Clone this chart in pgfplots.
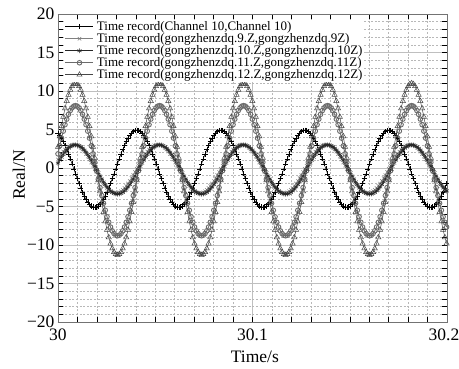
\documentclass[border=0pt]{standalone}
\usepackage{fontspec}
\setmainfont{Liberation Serif}
\usepackage{pgfplots}
\usepackage{pgfplotstable}
\pgfplotsset{compat=1.18}
\pgfplotstableread{
t s1 s2 s3 s4 s5
30.0000 4.52 1.11 0.63 1.84 2.74
30.0009 4.23 1.48 1.02 2.88 4.12
30.0018 3.87 1.82 1.40 3.88 5.43
30.0027 3.44 2.13 1.75 4.79 6.64
30.0036 2.94 2.40 2.06 5.63 7.73
30.0045 2.40 2.63 2.34 6.35 8.70
30.0054 1.81 2.81 2.57 6.97 9.51
30.0063 1.19 2.94 2.76 7.46 10.15
30.0072 0.55 3.02 2.89 7.81 10.62
30.0081 -0.10 3.05 2.97 8.03 10.90
30.0090 -0.75 3.02 3.00 8.10 11.00
30.0099 -1.39 2.94 2.97 8.03 10.90
30.0108 -2.01 2.81 2.89 7.81 10.62
30.0117 -2.60 2.63 2.76 7.46 10.15
30.0126 -3.14 2.40 2.57 6.97 9.51
30.0135 -3.64 2.13 2.34 6.35 8.70
30.0144 -4.07 1.82 2.06 5.63 7.73
30.0153 -4.43 1.48 1.75 4.79 6.64
30.0162 -4.72 1.11 1.40 3.88 5.43
30.0171 -4.93 0.72 1.02 2.88 4.12
30.0180 -5.06 0.31 0.63 1.84 2.74
30.0189 -5.10 -0.10 0.22 0.75 1.31
30.0198 -5.06 -0.51 -0.20 -0.35 -0.15
30.0207 -4.93 -0.92 -0.62 -1.45 -1.61
30.0216 -4.72 -1.31 -1.03 -2.54 -3.04
30.0225 -4.43 -1.68 -1.42 -3.58 -4.42
30.0234 -4.07 -2.02 -1.80 -4.58 -5.73
30.0243 -3.64 -2.33 -2.15 -5.49 -6.94
30.0252 -3.14 -2.60 -2.46 -6.33 -8.03
30.0261 -2.60 -2.83 -2.74 -7.05 -9.00
30.0270 -2.01 -3.01 -2.97 -7.67 -9.81
30.0279 -1.39 -3.14 -3.16 -8.16 -10.45
30.0288 -0.75 -3.22 -3.29 -8.51 -10.92
30.0297 -0.10 -3.25 -3.37 -8.73 -11.20
30.0306 0.55 -3.22 -3.40 -8.80 -11.30
30.0315 1.19 -3.14 -3.37 -8.73 -11.20
30.0324 1.81 -3.01 -3.29 -8.51 -10.92
30.0333 2.40 -2.83 -3.16 -8.16 -10.45
30.0342 2.94 -2.60 -2.97 -7.67 -9.81
30.0351 3.44 -2.33 -2.74 -7.05 -9.00
30.0360 3.87 -2.02 -2.46 -6.33 -8.03
30.0369 4.23 -1.68 -2.15 -5.49 -6.94
30.0378 4.52 -1.31 -1.80 -4.58 -5.73
30.0387 4.73 -0.92 -1.42 -3.58 -4.42
30.0396 4.86 -0.51 -1.03 -2.54 -3.04
30.0405 4.90 -0.10 -0.62 -1.45 -1.61
30.0414 4.86 0.31 -0.20 -0.35 -0.15
30.0423 4.73 0.72 0.22 0.75 1.31
30.0432 4.52 1.11 0.63 1.84 2.74
30.0441 4.23 1.48 1.02 2.88 4.12
30.0450 3.87 1.82 1.40 3.88 5.43
30.0459 3.44 2.13 1.75 4.79 6.64
30.0468 2.94 2.40 2.06 5.63 7.73
30.0477 2.40 2.63 2.34 6.35 8.70
30.0486 1.81 2.81 2.57 6.97 9.51
30.0495 1.19 2.94 2.76 7.46 10.15
30.0504 0.55 3.02 2.89 7.81 10.62
30.0513 -0.10 3.05 2.97 8.03 10.90
30.0522 -0.75 3.02 3.00 8.10 11.00
30.0531 -1.39 2.94 2.97 8.03 10.90
30.0540 -2.01 2.81 2.89 7.81 10.62
30.0549 -2.60 2.63 2.76 7.46 10.15
30.0558 -3.14 2.40 2.57 6.97 9.51
30.0567 -3.64 2.13 2.34 6.35 8.70
30.0576 -4.07 1.82 2.06 5.63 7.73
30.0585 -4.43 1.48 1.75 4.79 6.64
30.0594 -4.72 1.11 1.40 3.88 5.43
30.0603 -4.93 0.72 1.02 2.88 4.12
30.0612 -5.06 0.31 0.63 1.84 2.74
30.0621 -5.10 -0.10 0.22 0.75 1.31
30.0630 -5.06 -0.51 -0.20 -0.35 -0.15
30.0639 -4.93 -0.92 -0.62 -1.45 -1.61
30.0648 -4.72 -1.31 -1.03 -2.54 -3.04
30.0657 -4.43 -1.68 -1.42 -3.58 -4.42
30.0666 -4.07 -2.02 -1.80 -4.58 -5.73
30.0675 -3.64 -2.33 -2.15 -5.49 -6.94
30.0684 -3.14 -2.60 -2.46 -6.33 -8.03
30.0693 -2.60 -2.83 -2.74 -7.05 -9.00
30.0702 -2.01 -3.01 -2.97 -7.67 -9.81
30.0711 -1.39 -3.14 -3.16 -8.16 -10.45
30.0720 -0.75 -3.22 -3.29 -8.51 -10.92
30.0729 -0.10 -3.25 -3.37 -8.73 -11.20
30.0738 0.55 -3.22 -3.40 -8.80 -11.30
30.0747 1.19 -3.14 -3.37 -8.73 -11.20
30.0756 1.81 -3.01 -3.29 -8.51 -10.92
30.0765 2.40 -2.83 -3.16 -8.16 -10.45
30.0774 2.94 -2.60 -2.97 -7.67 -9.81
30.0783 3.44 -2.33 -2.74 -7.05 -9.00
30.0792 3.87 -2.02 -2.46 -6.33 -8.03
30.0801 4.23 -1.68 -2.15 -5.49 -6.94
30.0810 4.52 -1.31 -1.80 -4.58 -5.73
30.0819 4.73 -0.92 -1.42 -3.58 -4.42
30.0828 4.86 -0.51 -1.03 -2.54 -3.04
30.0837 4.90 -0.10 -0.62 -1.45 -1.61
30.0846 4.86 0.31 -0.20 -0.35 -0.15
30.0855 4.73 0.72 0.22 0.75 1.31
30.0864 4.52 1.11 0.63 1.84 2.74
30.0873 4.23 1.48 1.02 2.88 4.12
30.0882 3.87 1.82 1.40 3.88 5.43
30.0891 3.44 2.13 1.75 4.79 6.64
30.0900 2.94 2.40 2.06 5.63 7.73
30.0909 2.40 2.63 2.34 6.35 8.70
30.0918 1.81 2.81 2.57 6.97 9.51
30.0927 1.19 2.94 2.76 7.46 10.15
30.0936 0.55 3.02 2.89 7.81 10.62
30.0945 -0.10 3.05 2.97 8.03 10.90
30.0954 -0.75 3.02 3.00 8.10 11.00
30.0963 -1.39 2.94 2.97 8.03 10.90
30.0972 -2.01 2.81 2.89 7.81 10.62
30.0981 -2.60 2.63 2.76 7.46 10.15
30.0990 -3.14 2.40 2.57 6.97 9.51
30.0999 -3.64 2.13 2.34 6.35 8.70
30.1008 -4.07 1.82 2.06 5.63 7.73
30.1017 -4.43 1.48 1.75 4.79 6.64
30.1026 -4.72 1.11 1.40 3.88 5.43
30.1035 -4.93 0.72 1.02 2.88 4.12
30.1044 -5.06 0.31 0.63 1.84 2.74
30.1053 -5.10 -0.10 0.22 0.75 1.31
30.1062 -5.06 -0.51 -0.20 -0.35 -0.15
30.1071 -4.93 -0.92 -0.62 -1.45 -1.61
30.1080 -4.72 -1.31 -1.03 -2.54 -3.04
30.1089 -4.43 -1.68 -1.42 -3.58 -4.42
30.1098 -4.07 -2.02 -1.80 -4.58 -5.73
30.1107 -3.64 -2.33 -2.15 -5.49 -6.94
30.1116 -3.14 -2.60 -2.46 -6.33 -8.03
30.1125 -2.60 -2.83 -2.74 -7.05 -9.00
30.1134 -2.01 -3.01 -2.97 -7.67 -9.81
30.1143 -1.39 -3.14 -3.16 -8.16 -10.45
30.1152 -0.75 -3.22 -3.29 -8.51 -10.92
30.1161 -0.10 -3.25 -3.37 -8.73 -11.20
30.1170 0.55 -3.22 -3.40 -8.80 -11.30
30.1179 1.19 -3.14 -3.37 -8.73 -11.20
30.1188 1.81 -3.01 -3.29 -8.51 -10.92
30.1197 2.40 -2.83 -3.16 -8.16 -10.45
30.1206 2.94 -2.60 -2.97 -7.67 -9.81
30.1215 3.44 -2.33 -2.74 -7.05 -9.00
30.1224 3.87 -2.02 -2.46 -6.33 -8.03
30.1233 4.23 -1.68 -2.15 -5.49 -6.94
30.1242 4.52 -1.31 -1.80 -4.58 -5.73
30.1251 4.73 -0.92 -1.42 -3.58 -4.42
30.1260 4.86 -0.51 -1.03 -2.54 -3.04
30.1269 4.90 -0.10 -0.62 -1.45 -1.61
30.1278 4.86 0.31 -0.20 -0.35 -0.15
30.1287 4.73 0.72 0.22 0.75 1.31
30.1296 4.52 1.11 0.63 1.84 2.74
30.1305 4.23 1.48 1.02 2.88 4.12
30.1314 3.87 1.82 1.40 3.88 5.43
30.1323 3.44 2.13 1.75 4.79 6.64
30.1332 2.94 2.40 2.06 5.63 7.73
30.1341 2.40 2.63 2.34 6.35 8.70
30.1350 1.81 2.81 2.57 6.97 9.51
30.1359 1.19 2.94 2.76 7.46 10.15
30.1368 0.55 3.02 2.89 7.81 10.62
30.1377 -0.10 3.05 2.97 8.03 10.90
30.1386 -0.75 3.02 3.00 8.10 11.00
30.1395 -1.39 2.94 2.97 8.03 10.90
30.1404 -2.01 2.81 2.89 7.81 10.62
30.1413 -2.60 2.63 2.76 7.46 10.15
30.1422 -3.14 2.40 2.57 6.97 9.51
30.1431 -3.64 2.13 2.34 6.35 8.70
30.1440 -4.07 1.82 2.06 5.63 7.73
30.1449 -4.43 1.48 1.75 4.79 6.64
30.1458 -4.72 1.11 1.40 3.88 5.43
30.1467 -4.93 0.72 1.02 2.88 4.12
30.1476 -5.06 0.31 0.63 1.84 2.74
30.1485 -5.10 -0.10 0.22 0.75 1.31
30.1494 -5.06 -0.51 -0.20 -0.35 -0.15
30.1503 -4.93 -0.92 -0.62 -1.45 -1.61
30.1512 -4.72 -1.31 -1.03 -2.54 -3.04
30.1521 -4.43 -1.68 -1.42 -3.58 -4.42
30.1530 -4.07 -2.02 -1.80 -4.58 -5.73
30.1539 -3.64 -2.33 -2.15 -5.49 -6.94
30.1548 -3.14 -2.60 -2.46 -6.33 -8.03
30.1557 -2.60 -2.83 -2.74 -7.05 -9.00
30.1566 -2.01 -3.01 -2.97 -7.67 -9.81
30.1575 -1.39 -3.14 -3.16 -8.16 -10.45
30.1584 -0.75 -3.22 -3.29 -8.51 -10.92
30.1593 -0.10 -3.25 -3.37 -8.73 -11.20
30.1602 0.55 -3.22 -3.40 -8.80 -11.30
30.1611 1.19 -3.14 -3.37 -8.73 -11.20
30.1620 1.81 -3.01 -3.29 -8.51 -10.92
30.1629 2.40 -2.83 -3.16 -8.16 -10.45
30.1638 2.94 -2.60 -2.97 -7.67 -9.81
30.1647 3.44 -2.33 -2.74 -7.05 -9.00
30.1656 3.87 -2.02 -2.46 -6.33 -8.03
30.1665 4.23 -1.68 -2.15 -5.49 -6.94
30.1674 4.52 -1.31 -1.80 -4.58 -5.73
30.1683 4.73 -0.92 -1.42 -3.58 -4.42
30.1692 4.86 -0.51 -1.03 -2.54 -3.04
30.1701 4.90 -0.10 -0.62 -1.45 -1.61
30.1710 4.86 0.31 -0.20 -0.35 -0.15
30.1719 4.73 0.72 0.22 0.75 1.31
30.1728 4.52 1.11 0.63 1.84 2.74
30.1737 4.23 1.48 1.02 2.88 4.12
30.1746 3.87 1.82 1.40 3.88 5.43
30.1755 3.44 2.13 1.75 4.79 6.64
30.1764 2.94 2.40 2.06 5.63 7.73
30.1773 2.40 2.63 2.34 6.35 8.70
30.1782 1.81 2.81 2.57 6.97 9.51
30.1791 1.19 2.94 2.76 7.46 10.15
30.1800 0.55 3.02 2.89 7.81 10.62
30.1809 -0.10 3.05 2.97 8.03 10.90
30.1818 -0.75 3.02 3.00 8.10 11.00
30.1827 -1.39 2.94 2.97 8.03 10.90
30.1836 -2.01 2.81 2.89 7.81 10.62
30.1845 -2.60 2.63 2.76 7.46 10.15
30.1854 -3.14 2.40 2.57 6.97 9.51
30.1863 -3.64 2.13 2.34 6.35 8.70
30.1872 -4.07 1.82 2.06 5.63 7.73
30.1881 -4.43 1.48 1.75 4.79 6.64
30.1890 -4.72 1.11 1.40 3.88 5.43
30.1899 -4.93 0.72 1.02 2.88 4.12
30.1908 -5.06 0.31 0.63 1.84 2.74
30.1917 -5.10 -0.10 0.22 0.75 1.31
30.1926 -5.06 -0.51 -0.20 -0.35 -0.15
30.1935 -4.93 -0.92 -0.62 -1.45 -1.61
30.1944 -4.72 -1.31 -1.03 -2.54 -3.04
30.1953 -4.43 -1.68 -1.42 -3.58 -4.42
30.1962 -4.07 -2.02 -1.80 -4.58 -5.73
30.1971 -3.64 -2.33 -2.15 -5.49 -6.94
30.1980 -3.14 -2.60 -2.46 -6.33 -8.03
30.1989 -2.60 -2.83 -2.74 -7.05 -9.00
30.1998 -2.01 -3.01 -2.97 -7.67 -9.81
}\datatable

\begin{document}
\begin{tikzpicture}
\begin{axis}[
  scale only axis,
  width=389bp, height=308bp,
  xmin=30, xmax=30.2, ymin=-20, ymax=20,
  xtick={30,30.1,30.2},
  xticklabels={\textrm{30},\textrm{30.1},\textrm{30.2}\hspace*{6bp}},
  ytick={-20,-15,-10,-5,0,5,10,15,20},
  yticklabels={\textrm{−20},\textrm{−15},\textrm{−10},\textrm{−5},\textrm{0},\textrm{5},\textrm{10},\textrm{15},\textrm{20}},
  minor x tick num=9, minor y tick num=4,
  grid=both,
  major grid style={solid, black!25, line width=0.9bp},
  minor grid style={black!28, line width=0.5bp, dash pattern=on 2bp off 1.6bp},
  axis line style={black!55, line width=0.8bp},
  tick style={black, line width=0.5bp},
  tick align=inside, tick pos=both,
  major tick length=5bp, minor tick length=5bp,
  ticklabel style={font=\fontsize{17.5bp}{20bp}\selectfont},
  xticklabel style={yshift=-3bp},
  xlabel={Time/s}, ylabel={Real/N},
  every axis x label/.style={at={(axis description cs:0.506,-0.133)}, anchor=base, font=\fontsize{17.5bp}{20bp}\selectfont},
  every axis y label/.style={at={(axis description cs:-0.085,0.477)}, anchor=base, rotate=90, font=\fontsize{17.5bp}{20bp}\selectfont},
  legend cell align=left,
  legend style={at={(axis description cs:0.015,0.982)}, anchor=north west,
    draw=none, fill=white, inner xsep=1bp, inner ysep=1bp,
    font=\fontsize{13bp}{13bp}\selectfont,
    nodes={inner sep=0pt, text height=9.4bp, text depth=2.6bp},
    row sep=0bp,
    /tikz/every odd column/.append style={column sep=3bp}},
  legend image code/.code={\draw[mark repeat=2,mark phase=2] plot coordinates {(0bp,0bp) (14bp,0bp) (28bp,0bp)};},
]
\coordinate (sw) at (rel axis cs:0,0);
\addplot[black, line width=0.5bp, mark=+, mark size=2.6bp, mark options={solid}] table[x=t,y=s1] {\datatable};
\addlegendentry{Time record(Channel 10,Channel 10)}
\addplot[black!50, line width=0.5bp, mark=x, mark size=2.4bp, mark options={solid}] table[x=t,y=s2] {\datatable};
\addlegendentry{Time record(gongzhenzdq.9.Z,gongzhenzdq.9Z)}
\addplot[black!85, line width=0.5bp, mark=asterisk, mark size=2.4bp, mark options={solid}] table[x=t,y=s3] {\datatable};
\addlegendentry{Time record(gongzhenzdq.10.Z,gongzhenzdq.10Z)}
\addplot[black!58, line width=0.9bp, mark=o, mark size=2.3bp, mark options={solid, line width=0.9bp}] table[x=t,y=s4] {\datatable};
\addlegendentry{Time record(gongzhenzdq.11.Z,gongzhenzdq.11Z)}
\addplot[black!72, line width=0.5bp, mark=triangle, mark size=3bp, mark options={solid}] table[x=t,y=s5] {\datatable};
\addlegendentry{Time record(gongzhenzdq.12.Z,gongzhenzdq.12Z)}
\end{axis}
\pgfresetboundingbox
\path (sw) ++(-58bp,-47bp) rectangle ++(459bp,369bp);
\end{tikzpicture}
\end{document}
